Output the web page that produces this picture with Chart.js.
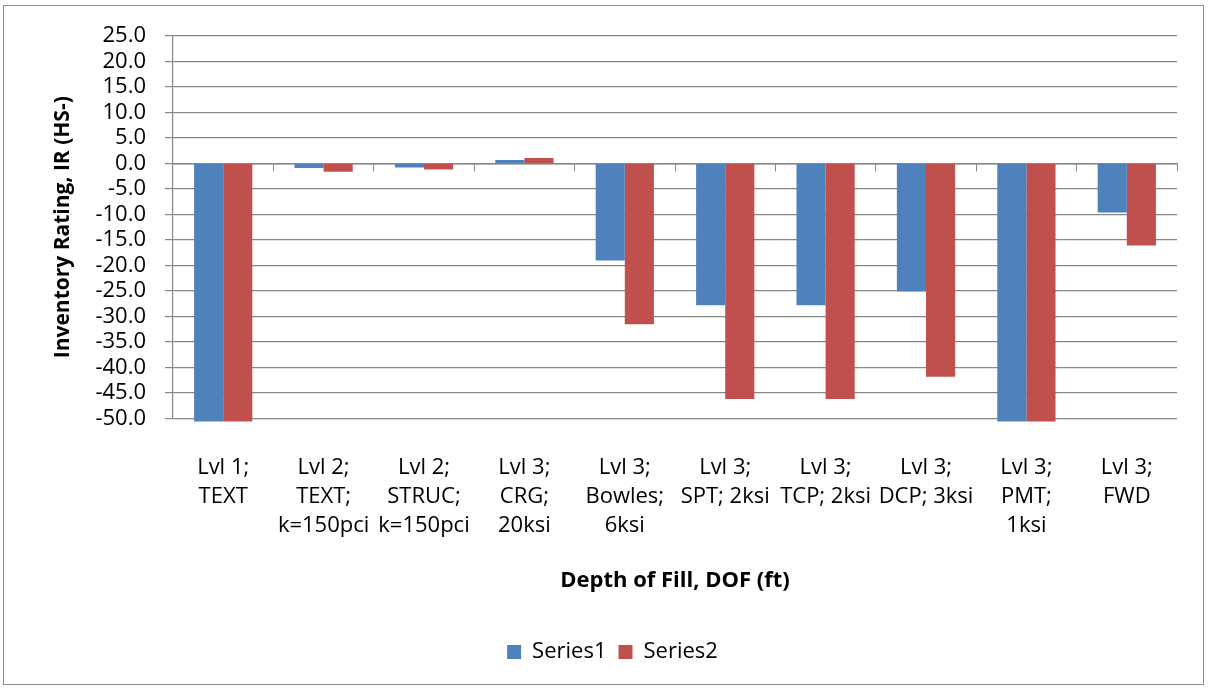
<!DOCTYPE html>
<html>
<head>
<meta charset="utf-8">
<title>Inventory Rating chart</title>
<script src="https://cdn.jsdelivr.net/npm/chart.js@4/dist/chart.umd.min.js"></script>
<style>
    html, body { margin: 0; padding: 0; background: #fff; }
    #wrap { position: relative; width: 1208px; height: 689px; }
    #frame {
        position: absolute; left: 3px; top: 5px; width: 1199px; height: 678px;
        border: 1px solid #8c8c8c; pointer-events: none;
    }
    canvas { position: absolute; left: 0; top: 0; }
</style>
</head>
<body>
<div id="wrap">
    <canvas id="irChart" width="1208" height="689"></canvas>
    <div id="frame"></div>
</div>
<script>
// Chart data

const categoryLabels = [
    ['Lvl 1;', 'TEXT'],
    ['Lvl 2;', 'TEXT;', 'k=150pci'],
    ['Lvl 2;', 'STRUC;', 'k=150pci'],
    ['Lvl 3;', 'CRG;', '20ksi'],
    ['Lvl 3;', 'Bowles;', '6ksi'],
    ['Lvl 3;', 'SPT; 2ksi'],
    ['Lvl 3;', 'TCP; 2ksi'],
    ['Lvl 3;', 'DCP; 3ksi'],
    ['Lvl 3;', 'PMT;', '1ksi'],
    ['Lvl 3;', 'FWD']
];

// bars that run off the bottom of the axis are clipped, true value unknown
const series1 = [-55, -0.9, -0.8, 0.7, -19.0, -27.8, -27.8, -25.1, -55, -9.6];
const series2 = [-55, -1.6, -1.2, 1.1, -31.5, -46.2, -46.2, -41.8, -55, -16.1];

const yMin = -50;
const yMax = 25;
const yStep = 5;

const FONT = "'Open Sans', sans-serif";
const GRID = '#868686';

// legend sits a little right of the plot centre in the original
const legendShift = {
    id: 'legendShift',
    afterLayout(chart) {
        chart.legend.left += 24;
        chart.legend.right += 24;
    }
};

const ctx = document.getElementById('irChart').getContext('2d');

const irChart = new Chart(ctx, {
    type: 'bar',
    data: {
        labels: categoryLabels,
        datasets: [
            {
                label: 'Series1',
                data: series1,
                backgroundColor: '#4F81BD',
                borderWidth: 0,
                clip: 3
            },
            {
                label: 'Series2',
                data: series2,
                backgroundColor: '#C0504D',
                borderWidth: 0,
                clip: 3
            }
        ]
    },
    options: {
        responsive: false,
        animation: false,
        categoryPercentage: 0.58,
        barPercentage: 1.0,
        layout: {
            padding: { top: 36, right: 31, bottom: 16, left: 0 }
        },
        plugins: {
            tooltip: { enabled: false },
            legend: {
                position: 'bottom',
                labels: {
                    font: { family: FONT, size: 22 },
                    color: '#000',
                    boxWidth: 14,
                    boxHeight: 14,
                    padding: 12
                }
            }
        },
        scales: {
            x: {
                grid: { display: false, drawTicks: false },
                border: { display: false },
                ticks: {
                    color: '#000',
                    font: { family: FONT, size: 22, lineHeight: 1.32 },
                    padding: 35,
                    maxRotation: 0,
                    autoSkip: false
                },
                title: {
                    display: true,
                    text: 'Depth of Fill, DOF (ft)',
                    color: '#000',
                    font: { family: FONT, size: 22, weight: 'bold' },
                    padding: { top: -8, bottom: 35 }
                }
            },
            // axis line along zero with tick marks between categories
            xZero: {
                type: 'category',
                position: { y: 0 },
                offset: true,
                grid: {
                    drawOnChartArea: false,
                    tickLength: 7,
                    color: GRID,
                    offset: true
                },
                border: { color: GRID, width: 1.5 },
                ticks: { display: false }
            },
            y: {
                min: yMin,
                max: yMax,
                grid: { color: GRID, lineWidth: 1.2, tickLength: 8 },
                border: { color: GRID, width: 1.2 },
                ticks: {
                    stepSize: yStep,
                    autoSkip: false,
                    color: '#000',
                    font: { family: FONT, size: 22 },
                    padding: 19,
                    callback: value => value.toFixed(1)
                },
                title: {
                    display: true,
                    text: 'Inventory Rating, IR (HS-)',
                    color: '#000',
                    font: { family: FONT, size: 21, weight: 'bold' },
                    padding: { top: 50, bottom: 0 }
                },
                afterFit: scale => { scale.width = 173; }
            }
        }
    },
    plugins: [legendShift]
});
</script>
</body>
</html>
